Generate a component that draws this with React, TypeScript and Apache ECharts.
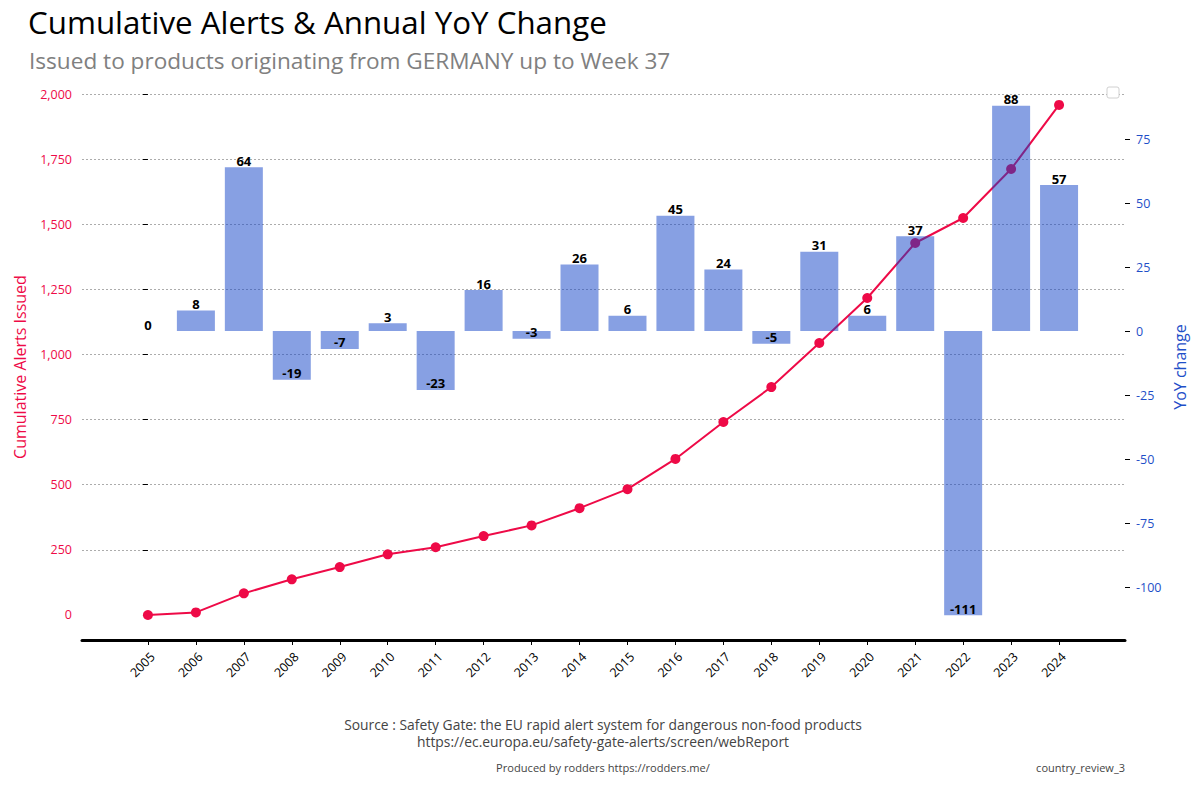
import React, { useEffect, useRef } from "react";
import * as echarts from "echarts";

const years = ["2005","2006","2007","2008","2009","2010","2011","2012","2013","2014","2015","2016","2017","2018","2019","2020","2021","2022","2023","2024"];
const cumulativeAlerts = [0, 10, 83, 137, 184, 233, 260, 303, 344, 410, 483, 599, 741, 875, 1044, 1217, 1428, 1524, 1712, 1958];
const yoyChange = [0, 8, 64, -19, -7, 3, -23, 16, -3, 26, 6, 45, 24, -5, 31, 6, 37, -111, 88, 57];
const leftTicks = [0, 250, 500, 750, 1000, 1250, 1500, 1750, 2000];
const rightTicks = [-100, -75, -50, -25, 0, 25, 50, 75];

const CRIMSON = "#ee0a47";
const BLUE = "#1f4fc8";
const FONT = "Open Sans";

export default function App() {
  const ref = useRef<HTMLDivElement>(null);
  useEffect(() => {
    document.body.style.margin = "0";
    const chart = echarts.init(ref.current!, null, { renderer: "svg" });
    const idx = years.map((_, i) => i);
    chart.setOption({
      animation: false,
      backgroundColor: "#fff",
      textStyle: { fontFamily: FONT },
      title: [
        { text: "Cumulative Alerts & Annual YoY Change", left: 23, top: 1, textStyle: { fontFamily: FONT, fontSize: 31.3, fontWeight: "normal", color: "#000" } },
        { text: "Issued to products originating from GERMANY up to Week 37", left: 24, top: 44, textStyle: { fontFamily: FONT, fontSize: 22.6, fontWeight: "normal", color: "#808080" } },
      ],
      grid: { left: 82, right: 75, top: 94, bottom: 160, containLabel: false },
      xAxis: {
        type: "value",
        min: -1.375,
        max: 20.375,
        minInterval: 1,
        maxInterval: 1,
        axisLine: { show: true, onZero: false, lineStyle: { color: "#000", width: 3 } },
        axisTick: { show: true, customValues: idx, length: 5, lineStyle: { color: "#000", width: 1 } },
        axisLabel: {
          customValues: idx,
          formatter: (v: number) => years[Math.round(v)] ?? "",
          rotate: 45,
          verticalAlign: "top",
          fontSize: 12.5,
          color: "#000",
          fontFamily: FONT,
          margin: 10,
        },
        splitLine: { show: false },
      },
      yAxis: [
        {
          type: "value",
          position: "left",
          min: -96,
          max: 2000,
          minInterval: 250,
          maxInterval: 250,
          name: "Cumulative Alerts Issued",
          nameLocation: "middle",
          nameGap: 54,
          nameTextStyle: { color: CRIMSON, fontSize: 16, fontFamily: FONT },
          axisLine: { show: false },
          axisTick: { show: true, customValues: leftTicks, length: 5, lineStyle: { color: "#000" } },
          axisLabel: {
            customValues: leftTicks,
            color: CRIMSON,
            fontSize: 12.5,
            fontFamily: FONT,
            margin: 10,
            formatter: (v: number) => v.toLocaleString("en-US"),
          },
          splitLine: { show: true, showMinLine: false, lineStyle: { color: "#888", width: 0.7, type: [2, 2] } },
        },
        {
          type: "value",
          position: "right",
          min: -120.7,
          max: 92.58,
          minInterval: 25,
          maxInterval: 25,
          name: "YoY change",
          nameLocation: "middle",
          nameGap: 41,
          nameTextStyle: { color: BLUE, fontSize: 16, fontFamily: FONT },
          axisLine: { show: false },
          axisTick: { show: true, customValues: rightTicks, length: 5, lineStyle: { color: "#000" } },
          axisLabel: { customValues: rightTicks, color: BLUE, fontSize: 12.5, fontFamily: FONT, margin: 11 },
          splitLine: { show: false },
        },
      ],
      series: [
        {
          type: "line",
          yAxisIndex: 0,
          z: 1,
          data: cumulativeAlerts.map((v, i) => [i, v]),
          symbol: "circle",
          symbolSize: 10,
          lineStyle: { color: CRIMSON, width: 2 },
          itemStyle: { color: CRIMSON },
        },
        {
          type: "bar",
          yAxisIndex: 1,
          z: 3,
          barWidth: 38,
          data: yoyChange.map((v, i) => ({
            value: [i, v],
            label: { position: v < 0 ? "insideBottom" : "top", distance: 0 },
          })),
          itemStyle: { color: "rgba(15,65,200,0.5)" },
          label: {
            show: true,
            formatter: (p: any) => String(p.value[1]),
            fontSize: 13,
            fontWeight: "bold",
            color: "#000",
            fontFamily: FONT,
          },
        },
      ],
      graphic: [
        { type: "rect", shape: { x: 1107, y: 87, width: 12, height: 11, r: 2 }, style: { fill: "#fff", stroke: "#d0d0d0", lineWidth: 1 }, z: 10 },
        { type: "text", x: 603, y: 724, style: { text: "Source : Safety Gate: the EU rapid alert system for dangerous non-food products", fontSize: 13.85, fontFamily: FONT, fill: "#444", textAlign: "center", textVerticalAlign: "middle" } },
        { type: "text", x: 603, y: 741, style: { text: "https://ec.europa.eu/safety-gate-alerts/screen/webReport", fontSize: 13.85, fontFamily: FONT, fill: "#444", textAlign: "center", textVerticalAlign: "middle" } },
        { type: "text", x: 603, y: 767, style: { text: "Produced by rodders https://rodders.me/", fontSize: 11.1, fontFamily: FONT, fill: "#444", textAlign: "center", textVerticalAlign: "middle" } },
        { type: "text", x: 1125, y: 767, style: { text: "country_review_3", fontSize: 11, fontFamily: FONT, fill: "#444", textAlign: "right", textVerticalAlign: "middle" } },
      ],
    });
    return () => chart.dispose();
  }, []);
  return <div ref={ref} style={{ width: 1200, height: 800 }} />;
}
